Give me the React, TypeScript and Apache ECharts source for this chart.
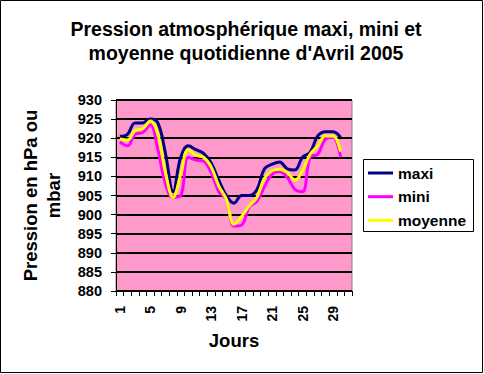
import React, { useEffect, useRef } from "react";
import * as echarts from "echarts";

const days = ["1","2","3","4","5","6","7","8","9","10","11","12","13","14","15","16","17","18","19","20","21","22","23","24","25","26","27","28","29","30","31"];
const maxi = [920.5,921,924,924,925,924,916,906,915,918,917,916,913.5,909,905,903,905,905,906.5,912,913.2,913.8,912,911.7,915,916.3,920.6,921.7,921.7,920.2];
const mini = [919,918,921,921.5,923.5,917,908,904.5,905,915,914.3,914,911,906,904,897,897.3,902,903.5,907.3,910.6,911.3,909.7,906.6,906,915,915.8,919.7,920.2,915];
const moyenne = [919.8,919.5,922,922.5,924.5,921,911,904.5,910.5,917,915.5,915,912.5,907.5,904,897.5,899.5,902.3,904.5,909.5,911.5,911.9,911,909,911.5,915.8,918,920.6,920.6,916.5];

const FONT = '"Liberation Sans", Arial, sans-serif';

export default function App() {
  const ref = useRef<HTMLDivElement>(null);
  useEffect(() => {
    if (!ref.current) return;
    const chart = echarts.init(ref.current, undefined, { renderer: "svg" });
    const mk = (name: string, data: number[], color: string) => ({
      name,
      type: "line",
      data,
      smooth: 0.4,
      symbol: "none",
      lineStyle: { color, width: 3 },
      itemStyle: { color },
    });
    chart.setOption({
      animation: false,
      backgroundColor: "#ffffff",
      title: {
        text: "Pression atmosphérique maxi, mini et\nmoyenne quotidienne d'Avril 2005",
        left: 241,
        top: 12,
        textAlign: "center",
        textStyle: { fontFamily: FONT, fontSize: 19.5, fontWeight: "bold", color: "#000", lineHeight: 24 },
      },
      graphic: [
        { type: "rect", z: 0, shape: { x: 0.5, y: 0.5, width: 482, height: 372 }, style: { fill: "none", stroke: "#000", lineWidth: 1 } },
        { type: "rect", z: 1, shape: { x: 363.5, y: 159.5, width: 110, height: 72 }, style: { fill: "#fff", stroke: "#000", lineWidth: 1 } },
      ],
      legend: {
        orient: "vertical",
        left: 368,
        top: 165,
        icon: "rect",
        itemWidth: 25,
        itemHeight: 3,
        itemGap: 7.7,
        padding: 0,
        textStyle: { fontFamily: FONT, fontSize: 15.5, fontWeight: "bold", color: "#000", lineHeight: 16 },
        data: ["maxi", "mini", "moyenne"],
      },
      grid: {
        left: 116,
        top: 100,
        width: 236,
        height: 191,
        show: true,
        backgroundColor: "#FF99CC",
        borderColor: "#808080",
        borderWidth: 1,
      },
      xAxis: {
        type: "category",
        data: days,
        boundaryGap: true,
        name: "Jours",
        nameLocation: "middle",
        nameGap: 40,
        nameTextStyle: { fontFamily: FONT, fontSize: 18.5, fontWeight: "bold", color: "#000" },
        axisLine: { lineStyle: { color: "#000", width: 1 } },
        axisTick: { show: true, interval: 0, length: 5, lineStyle: { color: "#000" } },
        axisLabel: { interval: 3, rotate: 90, margin: 15, fontFamily: FONT, fontSize: 14, fontWeight: "bold", color: "#000" },
        splitLine: { show: false },
      },
      yAxis: {
        type: "value",
        min: 880,
        max: 930,
        interval: 5,
        name: "Pression en hPa ou\nmbar",
        nameLocation: "middle",
        nameRotate: 90,
        nameGap: 51,
        nameTextStyle: { fontFamily: FONT, fontSize: 18.5, fontWeight: "bold", color: "#000", lineHeight: 23 },
        axisLine: { show: true, lineStyle: { color: "#000", width: 1 } },
        axisTick: { show: true, length: 5, lineStyle: { color: "#000" } },
        axisLabel: { margin: 14, fontFamily: FONT, fontSize: 14.5, fontWeight: "bold", color: "#000" },
        splitLine: { show: true, lineStyle: { color: "#000", width: 2 } },
      },
      series: [mk("maxi", maxi, "#000080"), mk("mini", mini, "#FF00FF"), mk("moyenne", moyenne, "#FFFF00")],
    });
    return () => chart.dispose();
  }, []);
  return <div ref={ref} style={{ position: "absolute", left: 0, top: 0, width: 484, height: 374 }} />;
}
